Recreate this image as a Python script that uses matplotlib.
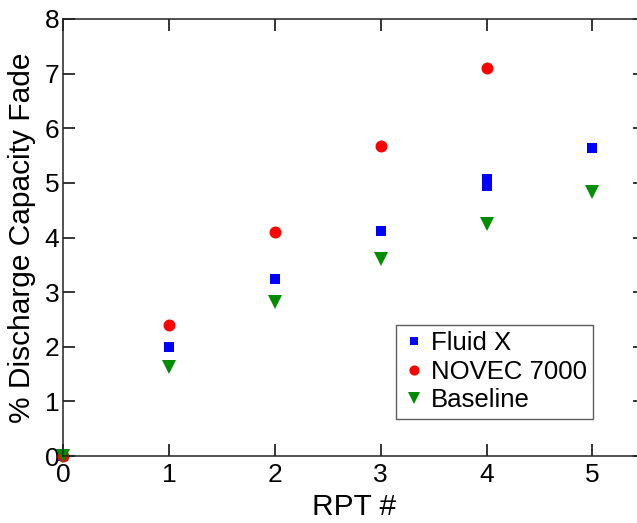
import matplotlib
matplotlib.use("Agg")
import matplotlib.pyplot as plt

plt.rcParams['font.family'] = ['Liberation Sans', 'DejaVu Sans']

# Capacity fade measured at each reference performance test (RPT)
fluid_x_rpt = [0, 1, 2, 3, 4, 4, 5]
fluid_x_fade = [0.0, 2.0, 3.24, 4.12, 4.95, 5.07, 5.64]

novec_rpt = [0, 1, 2, 3, 4]
novec_fade = [0.0, 2.4, 4.1, 5.67, 7.1]

baseline_rpt = [0, 1, 2, 3, 4, 5]
baseline_fade = [0.0, 1.63, 2.82, 3.61, 4.25, 4.83]

x_ticks = [0, 1, 2, 3, 4, 5]
y_ticks = [0, 1, 2, 3, 4, 5, 6, 7, 8]

fig = plt.figure(figsize=(6.37, 5.23), dpi=100)
ax = fig.add_axes([0.0994, 0.128, 0.9135, 0.8357])

ax.plot(fluid_x_rpt, fluid_x_fade, linestyle='none', marker='s', markersize=7,
        color='#0000ff', markeredgewidth=0, label='Fluid X', clip_on=False)
ax.plot(novec_rpt, novec_fade, linestyle='none', marker='o', markersize=8.6,
        color='#ff0000', markeredgewidth=0, label='NOVEC 7000', clip_on=False)
ax.plot(baseline_rpt, baseline_fade, linestyle='none', marker='v', markersize=9.5,
        color='#008c00', markeredgewidth=0, label='Baseline', clip_on=False)

ax.set_xlim(0, 5.5)
ax.set_ylim(0, 8)
ax.set_xticks(x_ticks)
ax.set_yticks(y_ticks)
ax.tick_params(direction='in', length=8.5, width=1.1, labelsize=19,
               top=True, right=True, colors='black')
ax.tick_params(axis='x', pad=5)
ax.tick_params(axis='y', pad=3)
for sp in ax.spines.values():
    sp.set_linewidth(1.1)
    sp.set_color('#222222')

ax.set_xlabel('RPT #', fontsize=21.5, labelpad=4)
ax.set_ylabel('% Discharge Capacity Fade', fontsize=21.5, labelpad=6)

leg = ax.legend(loc='upper left', bbox_to_anchor=(0.572, 0.30), borderaxespad=0,
                fontsize=18.5, frameon=True, fancybox=False, edgecolor='#333333',
                handletextpad=0.2, handlelength=0.9, labelspacing=0.17,
                borderpad=0.25, numpoints=1, markerscale=0.85)
leg.get_frame().set_linewidth(1.0)

fig.savefig('out.png', dpi=100)
